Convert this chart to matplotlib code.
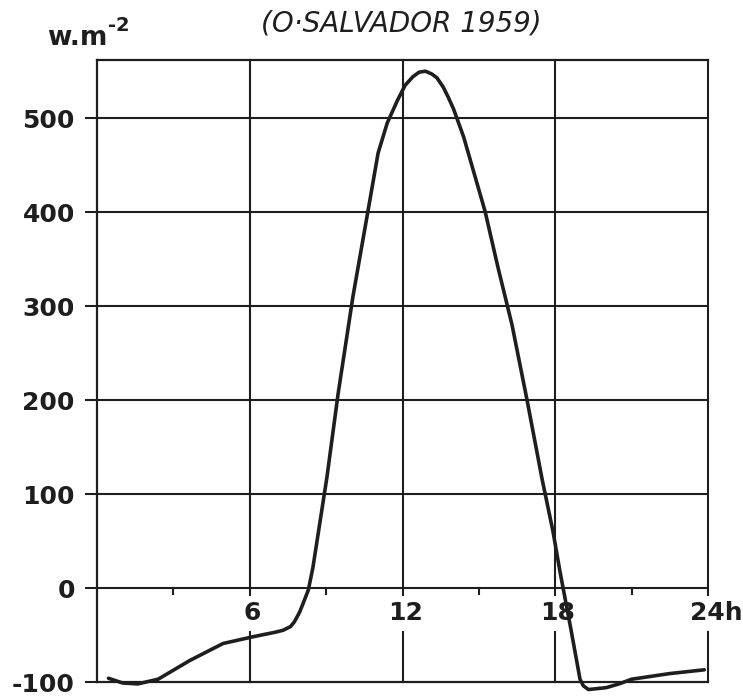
import matplotlib.pyplot as plt

# heure (h) et flux net (W/m2)
heures = [0.45, 1.0, 1.6, 2.4, 3.65, 4.95, 6.1, 7.0, 7.3, 7.6, 7.75, 7.95, 8.1,
          8.3, 8.48, 9.03, 9.47, 10.05, 10.64, 11.04, 11.4, 11.8, 12.1, 12.4,
          12.65, 12.9, 13.15, 13.35, 13.6, 13.8, 14.0, 14.4, 15.24, 15.75,
          16.3, 16.89, 17.48, 17.91, 18.18, 18.6, 18.97, 19.1, 19.3, 20.0,
          20.5, 21.0, 22.5, 23.85]
flux = [-96, -101, -102, -97, -77, -59, -52, -47, -45, -41, -36, -26, -16,
        -2, 22, 118, 207, 310, 401, 463, 495, 519, 535, 544,
        549, 550, 547, 543, 533, 522, 510, 480, 401, 341,
        280, 200, 116, 60, 18, -42, -97, -104, -108, -106,
        -102, -97, -91, -87]

yticks = [-100, 0, 100, 200, 300, 400, 500]
ytick_labels = ['-100', '0', '100', '200', '300', '400', '500']
xlabels = ['6', '12', '18']
xlabel_pos = [6, 12, 18]

encre = '#1e1e1e'

fig = plt.figure(figsize=(7.43, 6.97), dpi=100)
ax = fig.add_axes([0.1306, 0.0215, 0.8224, 0.8925])
ax.set_xlim(0, 24)
ax.set_ylim(-100, 562)

for s in ['right', 'bottom']:
    ax.spines[s].set_visible(False)
for s in ['left', 'top']:
    ax.spines[s].set_linewidth(1.6)
    ax.spines[s].set_color(encre)

# lignes horizontales
for y in [0, 100, 200, 300, 400, 500]:
    ax.axhline(y, color=encre, lw=1.5)
ax.plot([0, 24], [-100, -100], color=encre, lw=1.6, clip_on=False)

# lignes verticales, coupées autour des étiquettes
for x in [6, 12, 18, 24]:
    ax.plot([x, x], [-7, 562], color=encre, lw=1.5, clip_on=False)
    ax.plot([x, x], [-47, -100], color=encre, lw=1.5, clip_on=False)
for x in [3, 9, 15, 21]:
    ax.plot([x, x], [0, -6], color=encre, lw=1.5)

ax.plot(heures, flux, color=encre, lw=2.6, solid_capstyle='round',
        solid_joinstyle='round', zorder=5, clip_on=False)

ax.set_xticks([])
ax.set_yticks(yticks)
ax.set_yticklabels(ytick_labels, fontsize=18, fontweight='bold', color=encre)
ax.tick_params(axis='y', direction='out', length=9, width=1.5, pad=7, color=encre)

for x, lab in zip(xlabel_pos, xlabels):
    ax.text(x + 0.1, -27, lab, ha='center', va='center', fontsize=18,
            fontweight='bold', color=encre)
ax.text(23.3, -27, '24h', ha='left', va='center', fontsize=18,
        fontweight='bold', color=encre, clip_on=False)

fig.text(0.063, 0.935, 'w.m', fontsize=19, fontweight='bold', color=encre,
         ha='left', va='baseline')
fig.text(0.146, 0.955, '-2', fontsize=14, fontweight='bold', color=encre,
         ha='left', va='baseline')
fig.text(0.54, 0.967, '(O·SALVADOR 1959)', fontsize=20, style='italic',
         color=encre, ha='center', va='center')

fig.savefig('out.png', dpi=100)
